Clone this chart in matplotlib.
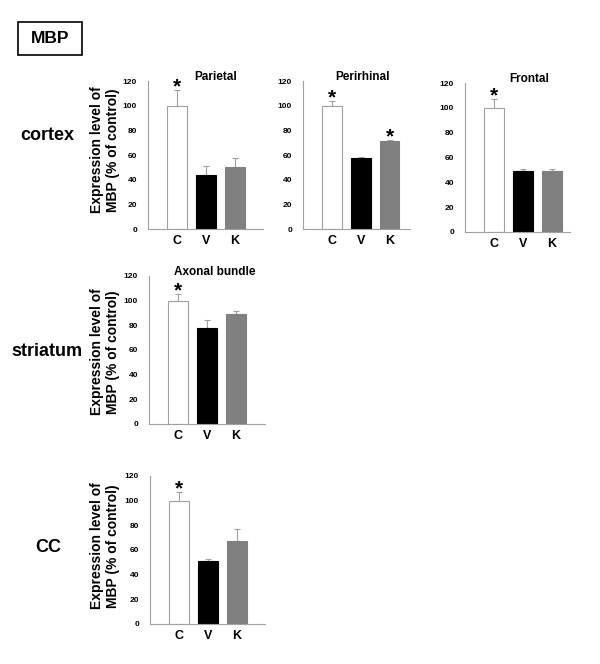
import matplotlib
matplotlib.use("Agg")
import matplotlib.pyplot as plt
from matplotlib.patches import Rectangle

plt.rcParams['font.family'] = ['Liberation Sans', 'DejaVu Sans']
plt.rcParams['font.weight'] = 'bold'

groups = ["C", "V", "K"]
titles = ["Parietal", "Perirhinal", "Frontal", "Axonal bundle", ""]
means = [[100, 44, 50.5],
         [100, 57.5, 71.5],
         [100, 49, 49.5],
         [100, 78, 89],
         [100, 51, 67.5]]
errs = [[12.5, 7, 7],
        [4, 1, 0.5],
        [7, 2, 1.5],
        [5.5, 6, 2.5],
        [7, 2, 9.5]]
stars = [[True, False, False],
         [True, False, True],
         [True, False, False],
         [True, False, False],
         [True, False, False]]
row_labels = ["cortex", "striatum", "CC"]
yticks = [0, 20, 40, 60, 80, 100, 120]
ylabel = "Expression level of\nMBP (% of control)"

W, H = 600, 664
fig = plt.figure(figsize=(6, 6.64), dpi=100)

# panel boxes in pixels: left, right, y of 0, y of 120, xmax
boxes = [(148, 263, 229, 81, 3.97),
         (303, 410, 229, 81, 3.7),
         (465, 570, 232, 83, 3.62),
         (149, 265, 424, 276, 4.0),
         (150, 265, 624, 476, 3.97)]
title_x = [2.35, 2.05, 2.2, 2.25, 2]

colors = ["white", "black", "#808080"]
edges = ["#a0a0a0", "black", "#808080"]

for i, (l, r, y0, y1, xmax) in enumerate(boxes):
    ax = fig.add_axes([l / W, 1 - y0 / H, (r - l) / W, (y0 - y1) / H])
    xs = [1, 2, 3]
    ax.bar(xs, means[i], width=0.67, color=colors, edgecolor=edges, linewidth=0.8, zorder=2)
    ax.errorbar(xs, means[i], yerr=[[0, 0, 0], errs[i]], fmt='none', ecolor="#a0a0a0",
                elinewidth=0.8, capsize=2, capthick=0.8, zorder=1)
    for j in range(3):
        if stars[i][j]:
            ax.annotate("*", (xs[j], means[i][j] + errs[i][j]), xytext=(0, -4.5),
                        textcoords='offset points', ha='center', va='bottom',
                        fontsize=15, fontweight='bold', annotation_clip=False)
    ax.set_xlim(0, xmax)
    ax.set_ylim(0, 120)
    ax.set_yticks(yticks)
    ax.set_xticks(xs)
    ax.set_xticklabels(groups, fontsize=9, fontweight='bold')
    ax.tick_params(axis='y', labelsize=6, length=0, pad=8)
    ax.tick_params(axis='x', length=0, pad=4)
    for s in ["top", "right"]:
        ax.spines[s].set_visible(False)
    for s in ["left", "bottom"]:
        ax.spines[s].set_color("#a0a0a0")
        ax.spines[s].set_linewidth(0.8)
    ax.set_facecolor("none")
    if titles[i]:
        ax.text(title_x[i], 123, titles[i], ha='center', va='center', fontsize=8.5,
                fontweight='bold', clip_on=False)

# y labels
for yc in [150, 352, 546]:
    fig.text(105 / W, 1 - yc / H, ylabel, rotation=90, ha='center', va='center',
             fontsize=10, fontweight='bold', multialignment='center', linespacing=1.15)

# row labels
fig.text(47 / W, 1 - 135 / H, row_labels[0], ha='center', va='center', fontsize=13, fontweight='bold')
fig.text(47 / W, 1 - 352 / H, row_labels[1], ha='center', va='center', fontsize=13, fontweight='bold')
fig.text(48 / W, 1 - 547 / H, row_labels[2], ha='center', va='center', fontsize=13, fontweight='bold')

# MBP box
fig.patches.append(Rectangle((18 / W, 1 - 55 / H), 64 / W, 33 / H, transform=fig.transFigure,
                             fill=False, edgecolor="black", linewidth=1.2))
fig.text(50 / W, 1 - 38.5 / H, "MBP", ha='center', va='center', fontsize=12.5, fontweight='bold')

fig.savefig("out.png", dpi=100)
